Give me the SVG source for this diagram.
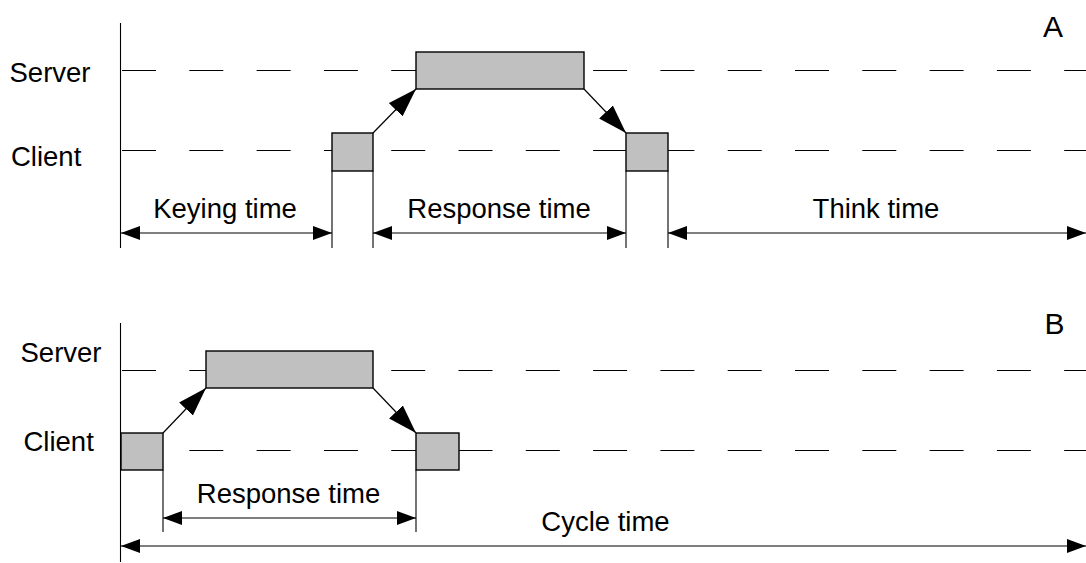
<svg xmlns="http://www.w3.org/2000/svg" width="1086" height="563" viewBox="0 0 1086 563">
  <style>
    .lbl { font-family: "Liberation Sans", Arial, sans-serif; font-size: 27.5px; fill: #000; }
    .tag { font-family: "Liberation Sans", Arial, sans-serif; font-size: 30px; fill: #000; }
    .mid { text-anchor: middle; }
    .axis { stroke: #000; stroke-width: 1.1; fill: none; }
    .lane { stroke: #000; stroke-width: 1.1; stroke-dasharray: 34 33.3; fill: none; }
    .box { fill: #c0c0c0; stroke: #000; stroke-width: 1.4; }
    .tick { stroke: #000; stroke-width: 1.1; fill: none; }
    .dim { stroke: #000; stroke-width: 1.2; fill: none; marker-start: url(#head); marker-end: url(#head); }
    .msg { stroke: #000; stroke-width: 1.2; fill: none; marker-end: url(#bighead); }
  </style>
  <defs>
    <marker id="head" viewBox="0 0 19 14" refX="19" refY="7" markerWidth="19" markerHeight="14" markerUnits="userSpaceOnUse" orient="auto-start-reverse">
      <path d="M0,0 L19,7 L0,14 z" fill="#000"/>
    </marker>
    <marker id="bighead" viewBox="0 0 29 19" refX="29" refY="9.5" markerWidth="29" markerHeight="19" markerUnits="userSpaceOnUse" orient="auto">
      <path d="M0,0 L29,9.5 L0,19 z" fill="#000"/>
    </marker>
  </defs>

  <rect width="1086" height="563" fill="#fff"/>

  <!-- Panel A: time axis and swim lanes -->
  <g id="panel-a-axes">
    <line class="axis" x1="120.5" y1="23" x2="120.5" y2="248"/>
    <line class="lane" x1="122" y1="70.5" x2="1086" y2="70.5"/>
    <line class="lane" x1="122" y1="150.5" x2="1086" y2="150.5"/>
    <text class="lbl" x="9.5" y="82">Server</text>
    <text class="lbl" x="11" y="165.5">Client</text>
    <text class="tag" x="1043" y="37">A</text>
  </g>

  <!-- Panel B: time axis and swim lanes -->
  <g id="panel-b-axes">
    <line class="axis" x1="120.5" y1="323" x2="120.5" y2="562"/>
    <line class="lane" x1="122" y1="370.5" x2="1086" y2="370.5"/>
    <line class="lane" x1="122" y1="450.5" x2="1086" y2="450.5"/>
    <text class="lbl" x="20.5" y="361.5">Server</text>
    <text class="lbl" x="23.5" y="450.5">Client</text>
    <text class="tag" x="1044.5" y="333.5">B</text>
  </g>

  <!-- Panel A activity boxes -->
  <g id="a-client-request"><rect class="box" x="332" y="133" width="41" height="38"/></g>
  <g id="a-server-work"><rect class="box" x="416" y="52" width="168" height="37"/></g>
  <g id="a-client-reply"><rect class="box" x="626" y="133" width="42" height="38"/></g>

  <!-- Panel B activity boxes -->
  <g id="b-client-request"><rect class="box" x="121" y="433" width="42" height="37"/></g>
  <g id="b-server-work"><rect class="box" x="206" y="351" width="167" height="37"/></g>
  <g id="b-client-reply"><rect class="box" x="416" y="433" width="43" height="37"/></g>

  <!-- Interval labels -->
  <g id="a-keying-label"><text class="lbl mid" x="225" y="218">Keying time</text></g>
  <g id="a-response-label"><text class="lbl mid" x="499" y="217.5">Response time</text></g>
  <g id="a-think-label"><text class="lbl mid" x="876" y="218">Think time</text></g>
  <g id="b-response-label"><text class="lbl mid" x="288.5" y="503">Response time</text></g>
  <g id="b-cycle-label"><text class="lbl mid" x="605.5" y="531">Cycle time</text></g>

  <!-- Connectors: messages, extension ticks and dimension arrows -->
  <g id="connectors">
    <line class="msg" x1="373" y1="133" x2="416" y2="89"/>
    <line class="msg" x1="584" y1="89" x2="626" y2="133"/>
    <line class="msg" x1="163" y1="433" x2="206" y2="388"/>
    <line class="msg" x1="373" y1="388" x2="416" y2="433"/>

    <line class="tick" x1="332" y1="171" x2="332" y2="248"/>
    <line class="tick" x1="373" y1="171" x2="373" y2="248"/>
    <line class="tick" x1="626" y1="171" x2="626" y2="248"/>
    <line class="tick" x1="668" y1="171" x2="668" y2="248"/>
    <line class="tick" x1="163" y1="470" x2="163" y2="532"/>
    <line class="tick" x1="416" y1="470" x2="416" y2="532"/>

    <line class="dim" x1="121" y1="233" x2="332" y2="233"/>
    <line class="dim" x1="373" y1="233" x2="626" y2="233"/>
    <line class="dim" x1="668" y1="233" x2="1086" y2="233"/>
    <line class="dim" x1="163" y1="518" x2="416" y2="518"/>
    <line class="dim" x1="121" y1="546" x2="1086" y2="546"/>
  </g>
</svg>
